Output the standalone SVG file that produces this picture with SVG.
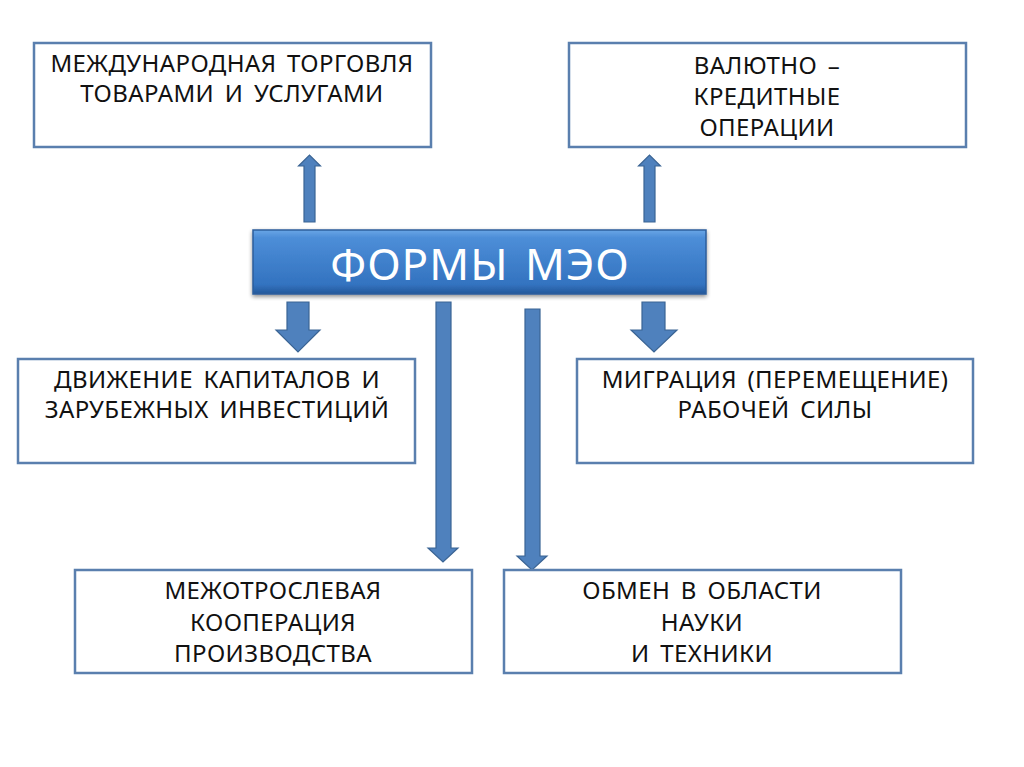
<svg xmlns="http://www.w3.org/2000/svg" width="1024" height="767" viewBox="0 0 1024 767">
<defs>
<linearGradient id="cg" x1="0" y1="0" x2="0" y2="1">
<stop offset="0" stop-color="#6aa6e6"/>
<stop offset="0.12" stop-color="#4d8ed8"/>
<stop offset="0.85" stop-color="#3373c0"/>
<stop offset="1" stop-color="#24589a"/>
</linearGradient>
<filter id="sh" x="-5%" y="-20%" width="110%" height="150%">
<feGaussianBlur in="SourceAlpha" stdDeviation="2"/>
<feOffset dx="0" dy="2" result="b"/>
<feComponentTransfer><feFuncA type="linear" slope="0.45"/></feComponentTransfer>
<feMerge><feMergeNode/><feMergeNode in="SourceGraphic"/></feMerge>
</filter>
</defs>
<style>
.box{fill:#ffffff;stroke:#5a7fae;stroke-width:2.5}
.t{font-family:"Noto Sans","Open Sans","DejaVu Sans",sans-serif;font-size:24px;fill:#111111;text-anchor:middle;letter-spacing:0.4px;word-spacing:4px}
.ar{fill:#4f81bd;stroke:#3a6494;stroke-width:1.2}
.ct{font-family:"Noto Sans","Open Sans","DejaVu Sans",sans-serif;font-size:44px;fill:#ffffff;text-anchor:middle;letter-spacing:1px;word-spacing:4px}
</style>
<rect width="1024" height="767" fill="#ffffff"/>
<g id="connectors">
<polygon class="ar" points="304,222 304,166 298.5,166 309.5,155 320.5,166 315,166 315,222"/>
<polygon class="ar" points="644,222 644,166 638.5,166 649.5,155 660.5,166 655,166 655,222"/>
<polygon class="ar" points="287,302 309,302 309,330 320,330 298,352 276,330 287,330"/>
<polygon class="ar" points="642,302 665,302 665,330 677,330 654,352 631,330 642,330"/>
<polygon class="ar" points="436,302 451,302 451,548 458,548 443,562 428,548 436,548"/>
<polygon class="ar" points="525,309 540,309 540,556 547,556 532,570 517,556 525,556"/>
</g>
<g id="center">
<rect x="253" y="230" width="453" height="64" fill="url(#cg)" stroke="#2b5e9c" stroke-width="1.5" filter="url(#sh)"/>
<text class="ct" x="480" y="280">ФОРМЫ МЭО</text>
</g>
<g id="n1">
<rect class="box" x="34" y="43" width="397" height="104"/>
<text class="t" x="232" y="72">МЕЖДУНАРОДНАЯ ТОРГОВЛЯ</text>
<text class="t" x="232" y="102">ТОВАРАМИ И УСЛУГАМИ</text>
</g>
<g id="n2">
<rect class="box" x="569" y="43" width="397" height="104"/>
<text class="t" x="767" y="74">ВАЛЮТНО –</text>
<text class="t" x="767" y="105">КРЕДИТНЫЕ</text>
<text class="t" x="767" y="136">ОПЕРАЦИИ</text>
</g>
<g id="n3">
<rect class="box" x="18" y="359" width="397" height="104"/>
<text class="t" x="217" y="388">ДВИЖЕНИЕ КАПИТАЛОВ И</text>
<text class="t" x="217" y="418">ЗАРУБЕЖНЫХ ИНВЕСТИЦИЙ</text>
</g>
<g id="n4">
<rect class="box" x="577" y="359" width="396" height="104"/>
<text class="t" x="775" y="388">МИГРАЦИЯ (ПЕРЕМЕЩЕНИЕ)</text>
<text class="t" x="775" y="418">РАБОЧЕЙ СИЛЫ</text>
</g>
<g id="n5">
<rect class="box" x="75" y="570" width="397" height="103"/>
<text class="t" x="273" y="599">МЕЖОТРОСЛЕВАЯ</text>
<text class="t" x="273" y="631">КООПЕРАЦИЯ</text>
<text class="t" x="273" y="662">ПРОИЗВОДСТВА</text>
</g>
<g id="n6">
<rect class="box" x="504" y="570" width="397" height="103"/>
<text class="t" x="702" y="599">ОБМЕН В ОБЛАСТИ</text>
<text class="t" x="702" y="631">НАУКИ</text>
<text class="t" x="702" y="662">И ТЕХНИКИ</text>
</g>
</svg>
